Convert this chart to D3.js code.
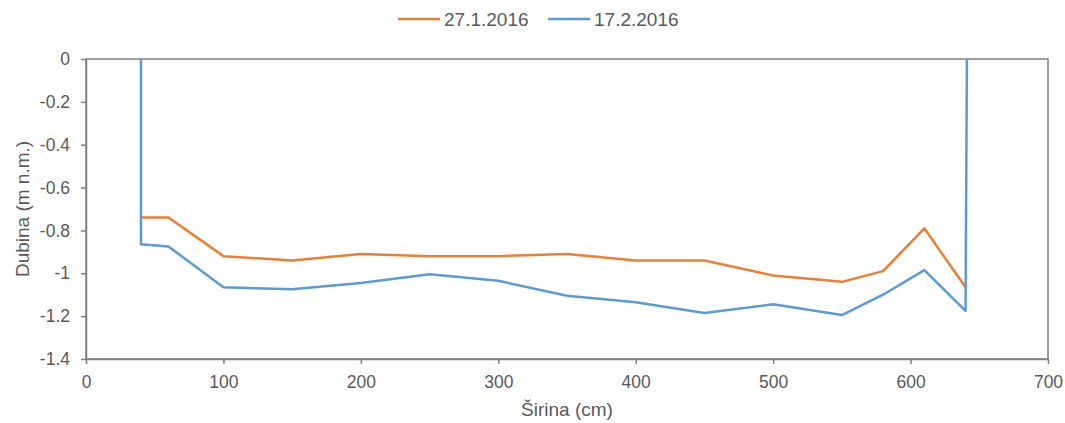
<!DOCTYPE html>
<html>
<head>
<meta charset="utf-8">
<script src="https://cdn.jsdelivr.net/npm/d3@7"></script>
<style>
  body { margin: 0; background: #fff; }
  text { font-family: "Liberation Sans", Arial, sans-serif; fill: #595959; }
</style>
</head>
<body>
<svg id="chart" width="1065" height="423"></svg>
<script>
// Series data
const seriesNames = ["27.1.2016", "17.2.2016"];
const xJan = [40, 60, 100, 150, 200, 250, 300, 350, 400, 450, 500, 550, 580, 610, 640];
const yJan = [-0.74, -0.74, -0.92, -0.94, -0.91, -0.92, -0.92, -0.91, -0.94, -0.94, -1.01, -1.04, -0.99, -0.79, -1.065];
const xFeb = [40, 40, 60, 100, 150, 200, 250, 300, 350, 400, 450, 500, 550, 580, 610, 640, 641];
const yFeb = [0, -0.865, -0.875, -1.065, -1.075, -1.045, -1.005, -1.035, -1.105, -1.135, -1.185, -1.145, -1.195, -1.1, -0.985, -1.175, 0];
const xTicks = [0, 100, 200, 300, 400, 500, 600, 700];
const yTicks = [0, -0.2, -0.4, -0.6, -0.8, -1, -1.2, -1.4];
const colors = ["#ED7D31", "#5B9BD5"];

const margin = { top: 59, right: 17, bottom: 64, left: 86 };
const width = 1065 - margin.left - margin.right;
const height = 423 - margin.top - margin.bottom;

const svg = d3.select("#chart");
const g = svg.append("g")
    .attr("transform", `translate(${margin.left},${margin.top})`);

const x = d3.scaleLinear().domain([0, 700]).range([0, width]);
const y = d3.scaleLinear().domain([-1.4, 0]).range([height, 0]);

// Plot border (top and right)
g.append("rect")
    .attr("x", 0).attr("y", 0)
    .attr("width", width).attr("height", height)
    .attr("fill", "none")
    .attr("stroke", "#7f7f7f")
    .attr("stroke-width", 1.5);

// Axes
const xAxis = g.append("g")
    .attr("transform", `translate(0,${height})`)
    .call(d3.axisBottom(x).tickValues(xTicks).tickSize(5).tickSizeOuter(0));
const yAxis = g.append("g")
    .call(d3.axisLeft(y).tickValues(yTicks).tickSize(5).tickSizeOuter(0).tickFormat(d => String(+d.toFixed(1))));

[xAxis, yAxis].forEach(a => {
    a.select(".domain").attr("stroke", "#7f7f7f").attr("stroke-width", 1.5);
    a.selectAll(".tick line").attr("stroke", "#7f7f7f").attr("stroke-width", 1.5);
    a.selectAll(".tick text")
        .attr("font-size", 17.5)
        .attr("fill", "#595959")
        .style("font-family", "'Liberation Sans', Arial, sans-serif");
});
xAxis.selectAll(".tick text").attr("y", 0).attr("dy", 29);
yAxis.selectAll(".tick text").attr("x", -16);

// Lines
const line = d3.line().x(d => x(d[0])).y(d => y(d[1]));
const series = [
    d3.zip(xJan, yJan),
    d3.zip(xFeb, yFeb)
];
series.forEach((s, i) => {
    g.append("path")
        .datum(s)
        .attr("fill", "none")
        .attr("stroke", colors[i])
        .attr("stroke-width", 2.5)
        .attr("stroke-linejoin", "round")
        .attr("d", line);
});

// Axis titles
svg.append("text")
    .attr("x", margin.left + width / 2)
    .attr("y", 416)
    .attr("text-anchor", "middle")
    .attr("font-size", 19)
    .text("Širina (cm)");
svg.append("text")
    .attr("transform", `translate(29,${margin.top + height / 2}) rotate(-90)`)
    .attr("text-anchor", "middle")
    .attr("font-size", 19)
    .text("Dubina (m n.m.)");

// Legend
const legendX = [398, 548];
seriesNames.forEach((name, i) => {
    const lg = svg.append("g").attr("transform", `translate(${legendX[i]},19)`);
    lg.append("line")
        .attr("x1", 0).attr("x2", 42)
        .attr("stroke", colors[i])
        .attr("stroke-width", 2.5);
    lg.append("text")
        .attr("x", 46).attr("y", 7)
        .attr("font-size", 19)
        .text(name);
});
</script>
</body>
</html>
